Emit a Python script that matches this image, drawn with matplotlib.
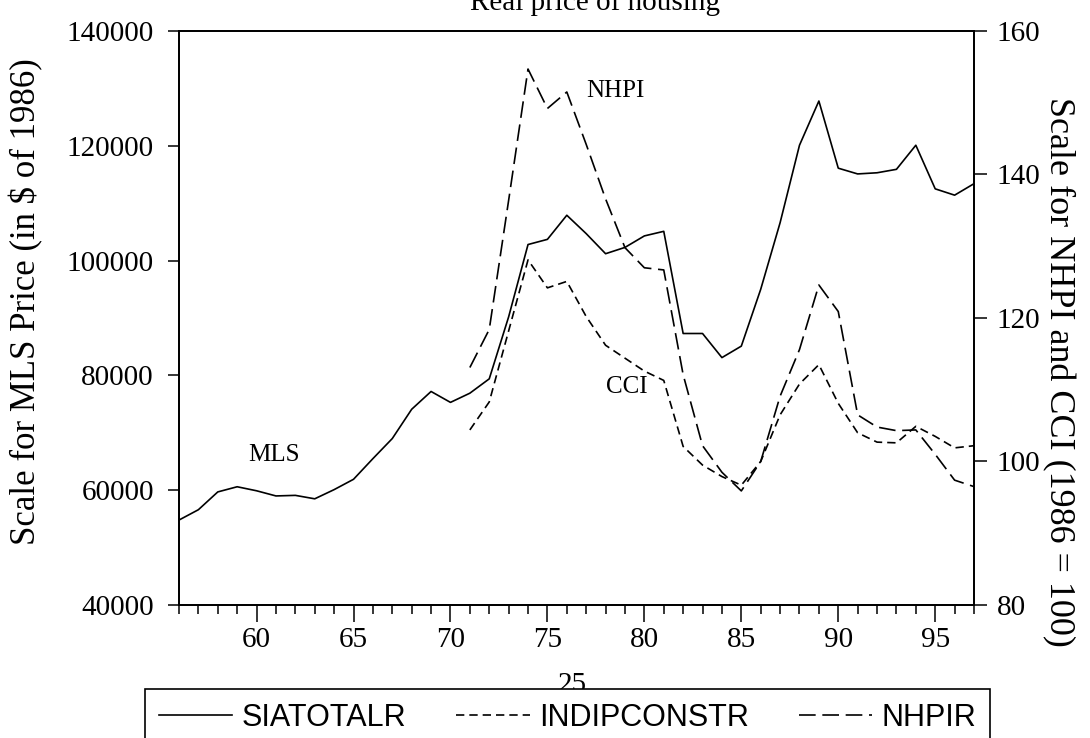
import matplotlib
matplotlib.use('Agg')
import matplotlib.pyplot as plt
from matplotlib import font_manager

# Real price of housing: MLS price (left scale) and NHPI / CCI indexes (right scale)
years = list(range(56, 98))
mls = [54800, 56600, 59700, 60600, 59900, 59000, 59100, 58500, 60100, 61900,
       65500, 69000, 74100, 77200, 75300, 76900, 79400, 90200, 102800, 103700,
       107900, 104700, 101200, 102300, 104300, 105100, 87300, 87300, 83100, 85100,
       95000, 106600, 120100, 127800, 116100, 115100, 115300, 115900, 120100, 112500,
       111400, 113400]

idx_years = list(range(71, 98))
nhpi = [113.1, 118.4, 136.4, 154.7, 149.2, 151.5, 144.2, 136.6, 129.8, 127.0,
        126.7, 112.1, 102.2, 98.5, 95.9, 100.0, 109.1, 115.6, 124.6, 120.9,
        106.5, 104.8, 104.3, 104.4, 101.0, 97.4, 96.5]
cci = [104.4, 108.3, 118.2, 128.1, 124.2, 125.1, 120.2, 116.2, 114.4, 112.6,
       111.3, 102.1, 99.5, 97.9, 96.7, 100.0, 106.5, 110.8, 113.5, 108.1,
       104.0, 102.7, 102.6, 104.9, 103.5, 101.9, 102.2]

left_ticks = [40000, 60000, 80000, 100000, 120000, 140000]
right_ticks = [80, 100, 120, 140, 160]
x_major = [60, 65, 70, 75, 80, 85, 90, 95]

names = ['SIATOTALR', 'INDIPCONSTR', 'NHPIR']

serif = 'Liberation Serif'
installed = {f.name for f in font_manager.fontManager.ttflist}
narrow = 'Liberation Sans Narrow' if 'Liberation Sans Narrow' in installed else 'Liberation Sans'

plt.rcParams['font.family'] = serif
plt.rcParams['axes.linewidth'] = 1.3

fig = plt.figure(figsize=(10.9, 7.38), dpi=100)
ax = fig.add_axes([179/1090, 1 - 605/738, (974-179)/1090, (605-31)/738])
ax2 = ax.twinx()

l1, = ax.plot(years, mls, color='black', lw=1.2)
l2, = ax2.plot(idx_years, cci, color='black', lw=1.2, dashes=(5, 3))
l3, = ax2.plot(idx_years, nhpi, color='black', lw=1.2, dashes=(10, 4))

ax.set_xlim(56, 97)
ax.set_ylim(40000, 140000)
ax2.set_ylim(80, 160)

ax.set_xticks(x_major)
ax.set_xticklabels([str(v) for v in x_major])
ax.set_xticks(years, minor=True)
ax.set_yticks(left_ticks)
ax.set_yticklabels([str(v) for v in left_ticks])
ax2.set_yticks(right_ticks)
ax2.set_yticklabels([str(v) for v in right_ticks])

ax.tick_params(axis='x', which='major', direction='out', length=12, width=1.1,
               pad=3.5, labelsize=21)
ax.tick_params(axis='x', which='minor', direction='out', length=6.5, width=1.1)
ax.tick_params(axis='y', direction='out', length=8, width=1.1, pad=10, labelsize=21)
ax2.tick_params(axis='y', direction='out', length=9.5, width=1.1, pad=7, labelsize=21)
ax2.tick_params(axis='x', which='both', length=0)

ax.set_ylabel('Scale for MLS Price (in $ of 1986)', fontsize=25)
ax.yaxis.set_label_coords((26-179)/795, (605-302)/574)
ax.yaxis.label.set_va('center')
ax2.set_ylabel('Scale for NHPI and CCI (1986 = 100)', fontsize=26, rotation=270)
ax2.yaxis.set_label_coords((1058-179)/795, (605-372)/574)
ax2.yaxis.label.set_va('center')

# series labels inside the plot
ax.text(60.9, 66050, 'MLS', fontsize=18, ha='center', va='center')
ax2.text(78.5, 151.7, 'NHPI', fontsize=18, ha='center', va='center')
ax2.text(79.1, 110.4, 'CCI', fontsize=18, ha='center', va='center')

fig.text(595/1090, 1 - 10/738, 'Real price of housing', fontsize=21,
         ha='center', va='baseline')
fig.text(572/1090, 1 - 692/738, '25', fontsize=21, ha='center', va='baseline',
         zorder=1)

leg = fig.legend([l1, l2, l3], names, loc='upper left', ncol=3, mode='expand',
                 bbox_to_anchor=(145/1090, 1 - 689/738, (990-145)/1090, 0.0),
                 prop={'family': narrow, 'size': 22}, frameon=True,
                 fancybox=False, edgecolor='black', framealpha=1,
                 handlelength=2.4, handletextpad=0.3, borderpad=0.45,
                 borderaxespad=0)
leg.get_frame().set_linewidth(1.2)
leg.set_zorder(5)

fig.savefig('out.png', dpi=100)
